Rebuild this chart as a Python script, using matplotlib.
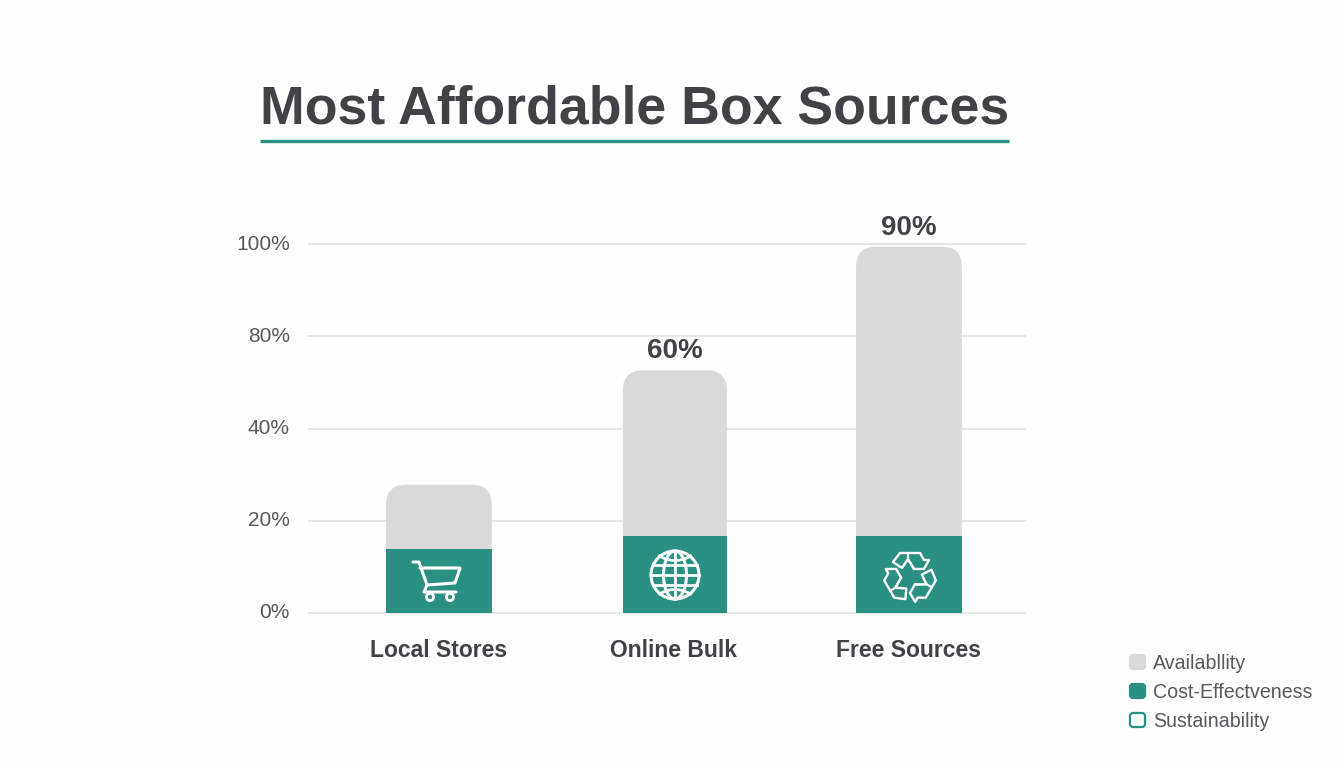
import matplotlib
matplotlib.use('Agg')
import matplotlib.pyplot as plt
from matplotlib.patches import PathPatch, Circle, Ellipse, FancyBboxPatch, Polygon
from matplotlib.path import Path
from matplotlib.transforms import Affine2D
from matplotlib.lines import Line2D
import numpy as np

W, H = 1344, 768
TEAL = '#2a9082'
GREY = '#d8d9d9'
DARK = '#404346'
MID = '#56595b'

categories = ['Local Stores', 'Online Bulk', 'Free Sources']
# the y axis is evenly spaced but its labels skip 60%, so values are in tick steps
tick_steps = [0, 1, 2, 3, 4]
tick_labels = ['0%', '20%', '40%', '80%', '100%']
cost_effectiveness = [0.69, 0.83, 0.83]
availability_total = [1.39, 2.63, 3.97]
bar_labels = ['', '60%', '90%']
legend_labels = ['Availabllity', 'Cost-Effectveness', 'Sustainability']

plt.rcParams['font.family'] = ['Liberation Sans', 'DejaVu Sans']

fig = plt.figure(figsize=(W / 100, H / 100), dpi=100, facecolor='#fdfefe')
ax = fig.add_axes([308 / W, 1 - 613 / H, (1026 - 308) / W, (613 - 244) / H])
ax.set_facecolor('none')
ax.set_xlim(-0.557, 2.498)
ax.set_ylim(0, 4)
for s in ax.spines.values():
    s.set_visible(False)

ax.set_yticks(tick_steps)
ax.set_yticklabels(tick_labels, fontsize=15, color=MID, va='center')
ax.set_xticks(range(3))
ax.set_xticklabels(categories, fontsize=16.5, fontweight='bold', color=DARK)
ax.tick_params(axis='both', length=0)
ax.tick_params(axis='y', pad=13)
ax.tick_params(axis='x', pad=19)
ax.grid(axis='y', color='#e4e6e6', linewidth=1.3, zorder=0)
ax.set_axisbelow(True)
for g in ax.get_ygridlines():
    g.set_clip_on(False)
    g.set_solid_capstyle('butt')

bar_x = [0, 1.004, 2]
bar_w = [0.45, 0.443, 0.45]
px_x = (1026 - 308) / (2.498 + 0.557)
px_y = (613 - 244) / 4


def rounded_top(x, bottom, top, width, r=20):
    # bar with only its top corners rounded, r is in pixels
    rx, ry = r / px_x, r / px_y
    l, h = x - width / 2, x + width / 2
    verts = [(l, bottom), (l, top - ry), (l, top), (l + rx, top), (h - rx, top),
             (h, top), (h, top - ry), (h, bottom), (l, bottom)]
    codes = [Path.MOVETO, Path.LINETO, Path.CURVE3, Path.CURVE3, Path.LINETO,
             Path.CURVE3, Path.CURVE3, Path.LINETO, Path.CLOSEPOLY]
    return PathPatch(Path(verts, codes), facecolor=GREY, edgecolor='none', zorder=2)


for i in range(3):
    ax.add_patch(rounded_top(bar_x[i], cost_effectiveness[i], availability_total[i], bar_w[i]))
    if bar_labels[i]:
        ax.annotate(bar_labels[i], (bar_x[i], availability_total[i]), xytext=(0, 4.5),
                    textcoords='offset points', ha='center', va='bottom',
                    fontsize=20, fontweight='bold', color=DARK)
ax.bar(bar_x, cost_effectiveness, width=bar_w, color=TEAL, zorder=3)


def px(x, y):
    # icons are drawn in pixel offsets around the point (x, y), y measured from the top
    return Affine2D().translate(x, H - y)


def cart(cx, cy):
    tr = px(cx, cy)
    kw = dict(color='white', lw=2.2, transform=tr, zorder=5, solid_capstyle='round',
              solid_joinstyle='round')
    fig.add_artist(Line2D([-26, -20, -12], [18, 18, -5], **kw))
    fig.add_artist(Line2D([-19, 21, 16, -12], [12, 12, -3, -5], **kw))
    fig.add_artist(Line2D([-12, -15, 17], [-5, -12, -12], **kw))
    for wx in (-9, 11):
        fig.add_artist(Circle((wx, -17), 3.6, fill=False, ec='white', lw=2, transform=tr, zorder=5))


def globe(cx, cy, r=24):
    tr = px(cx, cy)
    kw = dict(fill=False, ec='white', lw=2.2, transform=tr, zorder=5)
    fig.add_artist(Circle((0, 0), r, **kw))
    fig.add_artist(Ellipse((0, 0), 23, 2 * r, **kw))
    ln = dict(color='white', lw=2, transform=tr, zorder=5)
    fig.add_artist(Line2D([0, 0], [-r, r], **ln))
    for yy in (-10, 0, 10):
        hw = np.sqrt(r ** 2 - yy ** 2)
        fig.add_artist(Line2D([-hw, hw], [yy, yy], **ln))
    # curved latitude arcs near the poles
    t = np.linspace(-1, 1, 30)
    for sign in (-1, 1):
        fig.add_artist(Line2D(15.5 * t, sign * (14.5 + 4.5 * t ** 2), **ln))


def recycle(cx, cy):
    arrow = np.array([(-17, 15), (-10, 24), (10, 24), (14, 17), (19, 17), (14, 8),
                      (4, 8), (-2, 18), (-8, 9)], dtype=float)
    fold = np.array([(-2, 24), (-2, 18), (4, 8)], dtype=float)
    for a in (0, -120, -240):
        tr = Affine2D().rotate_deg(a).translate(cx, H - cy)
        fig.add_artist(Polygon(arrow, closed=True, fill=False, ec='white', lw=1.7,
                               joinstyle='round', transform=tr, zorder=5))
        fig.add_artist(Line2D(fold[:, 0], fold[:, 1], color='white', lw=1.5, transform=tr, zorder=5))


cart(439, 580)
globe(675, 575)
recycle(910, 577)

# title and underline
fig.text(634.5 / W, 1 - 109 / H, 'Most Affordable Box Sources', ha='center', va='center',
         fontsize=38.6, fontweight='bold', color=DARK)
fig.add_artist(Line2D([260 / W, 1009 / W], [1 - 141 / H] * 2, color=TEAL, lw=2.4,
                      solid_capstyle='butt'))

# legend
legend_y = [662, 691, 720]
legend_face = [GREY, TEAL, 'none']
legend_edge = [GREY, TEAL, TEAL]
for lab, yy, fc, ec in zip(legend_labels, legend_y, legend_face, legend_edge):
    fig.add_artist(FancyBboxPatch((1130, H - yy - 7), 15, 14, boxstyle='round,pad=0,rounding_size=3',
                                  fc=fc, ec=ec, lw=1.6, transform=None))
    fig.text(1153 / W, 1 - (yy + 1.5) / H, lab, ha='left', va='center', fontsize=14.1, color=MID)

fig.savefig('out.png', dpi=100, facecolor=fig.get_facecolor())
